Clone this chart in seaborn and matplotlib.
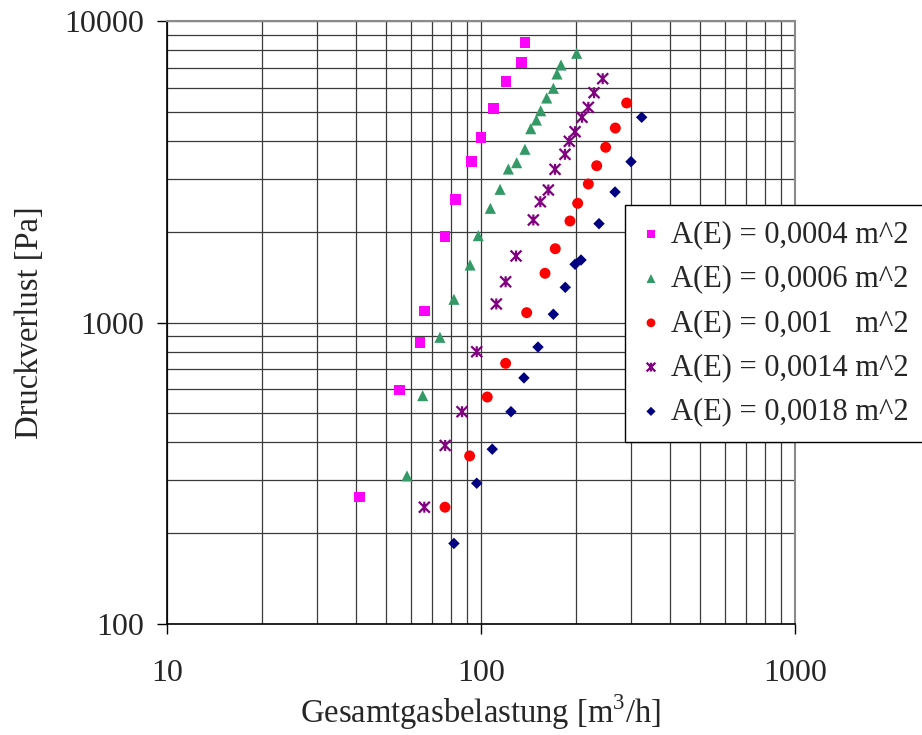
import matplotlib
matplotlib.use("Agg")
import matplotlib.pyplot as plt
import pandas as pd
import seaborn as sns
from matplotlib.path import Path
from matplotlib.ticker import FixedLocator, LogLocator, NullFormatter

# Gas load [m^3/h] and pressure loss [Pa] per inlet cross-section A(E)
q_0004 = [41.0, 54.9, 63.9, 66.0, 76.9, 83.1, 93.1, 100.0, 109.7, 120.1, 134.8, 138.0]
dp_0004 = [264, 597, 860, 1092, 1926, 2563, 3415, 4102, 5133, 6292, 7274, 8500]

q_0006 = [58.1, 65.2, 74.0, 82.0, 92.3, 98.0, 107.1, 115.0, 122.2, 129.9, 138.0,
          144.0, 150.1, 154.9, 161.9, 170.0, 174.6, 179.8, 201.7]
dp_0006 = [310, 572, 893, 1194, 1551, 1941, 2392, 2765, 3229, 3389, 3754,
           4393, 4694, 5039, 5554, 5981, 6673, 7145, 7815]

q_001 = [76.8, 92.0, 104.7, 119.8, 139.8, 159.9, 172.4, 192.0, 203.2, 219.7,
         233.6, 249.5, 267.8, 291.0]
dp_001 = [244, 361, 566, 732, 1078, 1456, 1757, 2171, 2485, 2880,
          3311, 3812, 4416, 5346]

q_0014 = [66.0, 76.9, 87.0, 96.9, 111.9, 119.8, 129.3, 146.8, 154.5, 163.9,
          172.1, 185.1, 191.1, 199.3, 209.7, 219.7, 229.1, 244.1]
dp_0014 = [244, 391, 506, 800, 1152, 1365, 1662, 2188, 2515, 2751,
           3222, 3613, 3990, 4294, 4793, 5173, 5783, 6436]

q_0018 = [82.0, 96.9, 108.6, 124.6, 137.0, 151.9, 170.0, 185.5, 199.3, 208.2,
          237.6, 267.2, 300.4, 324.9]
dp_0018 = [185, 293, 380, 506, 655, 829, 1065, 1308, 1560, 1612,
           2127, 2709, 3415, 4793]

labels = ["A(E) = 0,0004 m^2", "A(E) = 0,0006 m^2", "A(E) = 0,001   m^2",
          "A(E) = 0,0014 m^2", "A(E) = 0,0018 m^2"]
x_ticks = [10, 100, 1000]
y_ticks = [100, 1000, 10000]

sns.set_theme(style="ticks")
plt.rcParams["font.family"] = ["Liberation Serif", "DejaVu Serif"]
plt.rcParams["mathtext.fontset"] = "custom"
plt.rcParams["mathtext.rm"] = "Liberation Serif"

# Asterisk marker: an X crossed by a vertical stroke
star_path = Path(
    [(-1, -1), (1, 1), (-1, 1), (1, -1), (0, -1), (0, 1)],
    [Path.MOVETO, Path.LINETO, Path.MOVETO, Path.LINETO, Path.MOVETO, Path.LINETO],
)

fig = plt.figure(figsize=(9.22, 7.35), dpi=100)
ax = fig.add_axes([167 / 922, 1 - 624 / 735, (795 - 167) / 922, (624 - 21) / 735])

styles = [
    (q_0004, dp_0004, "#FF00FF", "s", 58, False),
    (q_0006, dp_0006, "#339966", "^", 64, False),
    (q_001, dp_001, "#FF0000", "o", 62, False),
    (q_0014, dp_0014, "#800080", star_path, 62, True),
    (q_0018, dp_0018, "#000080", "D", 34, False),
]

for label, (q, dp, color, marker, size, stroked) in zip(labels, styles):
    df = pd.DataFrame({"q": q, "dp": dp})
    if stroked:
        extra = dict(edgecolor=color, facecolor="none", linewidth=1.6)
    else:
        extra = dict(edgecolor="none")
    sns.scatterplot(data=df, x="q", y="dp", color=color, marker=marker, s=size,
                    label=label, ax=ax, zorder=3, **extra)

ax.set_xscale("log")
ax.set_yscale("log")
ax.set_xlim(10, 1000)
ax.set_ylim(100, 10000)

ax.xaxis.set_major_locator(FixedLocator(x_ticks))
ax.yaxis.set_major_locator(FixedLocator(y_ticks))
ax.set_xticklabels([str(v) for v in x_ticks])
ax.set_yticklabels([str(v) for v in y_ticks])
ax.xaxis.set_minor_locator(LogLocator(base=10, subs=range(2, 10)))
ax.yaxis.set_minor_locator(LogLocator(base=10, subs=range(2, 10)))
ax.xaxis.set_minor_formatter(NullFormatter())
ax.yaxis.set_minor_formatter(NullFormatter())

ax.tick_params(which="major", direction="out", length=7.5, width=1.0,
               color="black", labelsize=23)
ax.tick_params(axis="x", which="major", pad=18)
ax.tick_params(axis="y", which="major", pad=9)
ax.tick_params(which="minor", length=0)

ax.grid(which="both", color="#3a3a3a", linewidth=0.9)
ax.set_axisbelow(True)
for side in ["left", "bottom"]:
    ax.spines[side].set_color("black")
    ax.spines[side].set_linewidth(1.2)
for side in ["top", "right"]:
    ax.spines[side].set_color("#8a8a8a")
    ax.spines[side].set_linewidth(1.5)

ax.set_xlabel(r"Gesamtgasbelastung [m$^{\mathrm{3}}$/h]", fontsize=23.5, labelpad=3)
ax.set_ylabel("Druckverlust [Pa]", fontsize=23.5, labelpad=14)

leg = ax.legend(loc="upper left", bbox_to_anchor=(625 / 922, 1 - 205 / 735),
                bbox_transform=fig.transFigure, borderaxespad=0, frameon=True,
                fancybox=False, edgecolor="black", framealpha=1, fontsize=22,
                handlelength=0.7, handletextpad=0.3, borderpad=0.5,
                labelspacing=0.5, markerscale=0.8)
leg.get_frame().set_linewidth(1.0)

fig.savefig("out.png", dpi=100)
